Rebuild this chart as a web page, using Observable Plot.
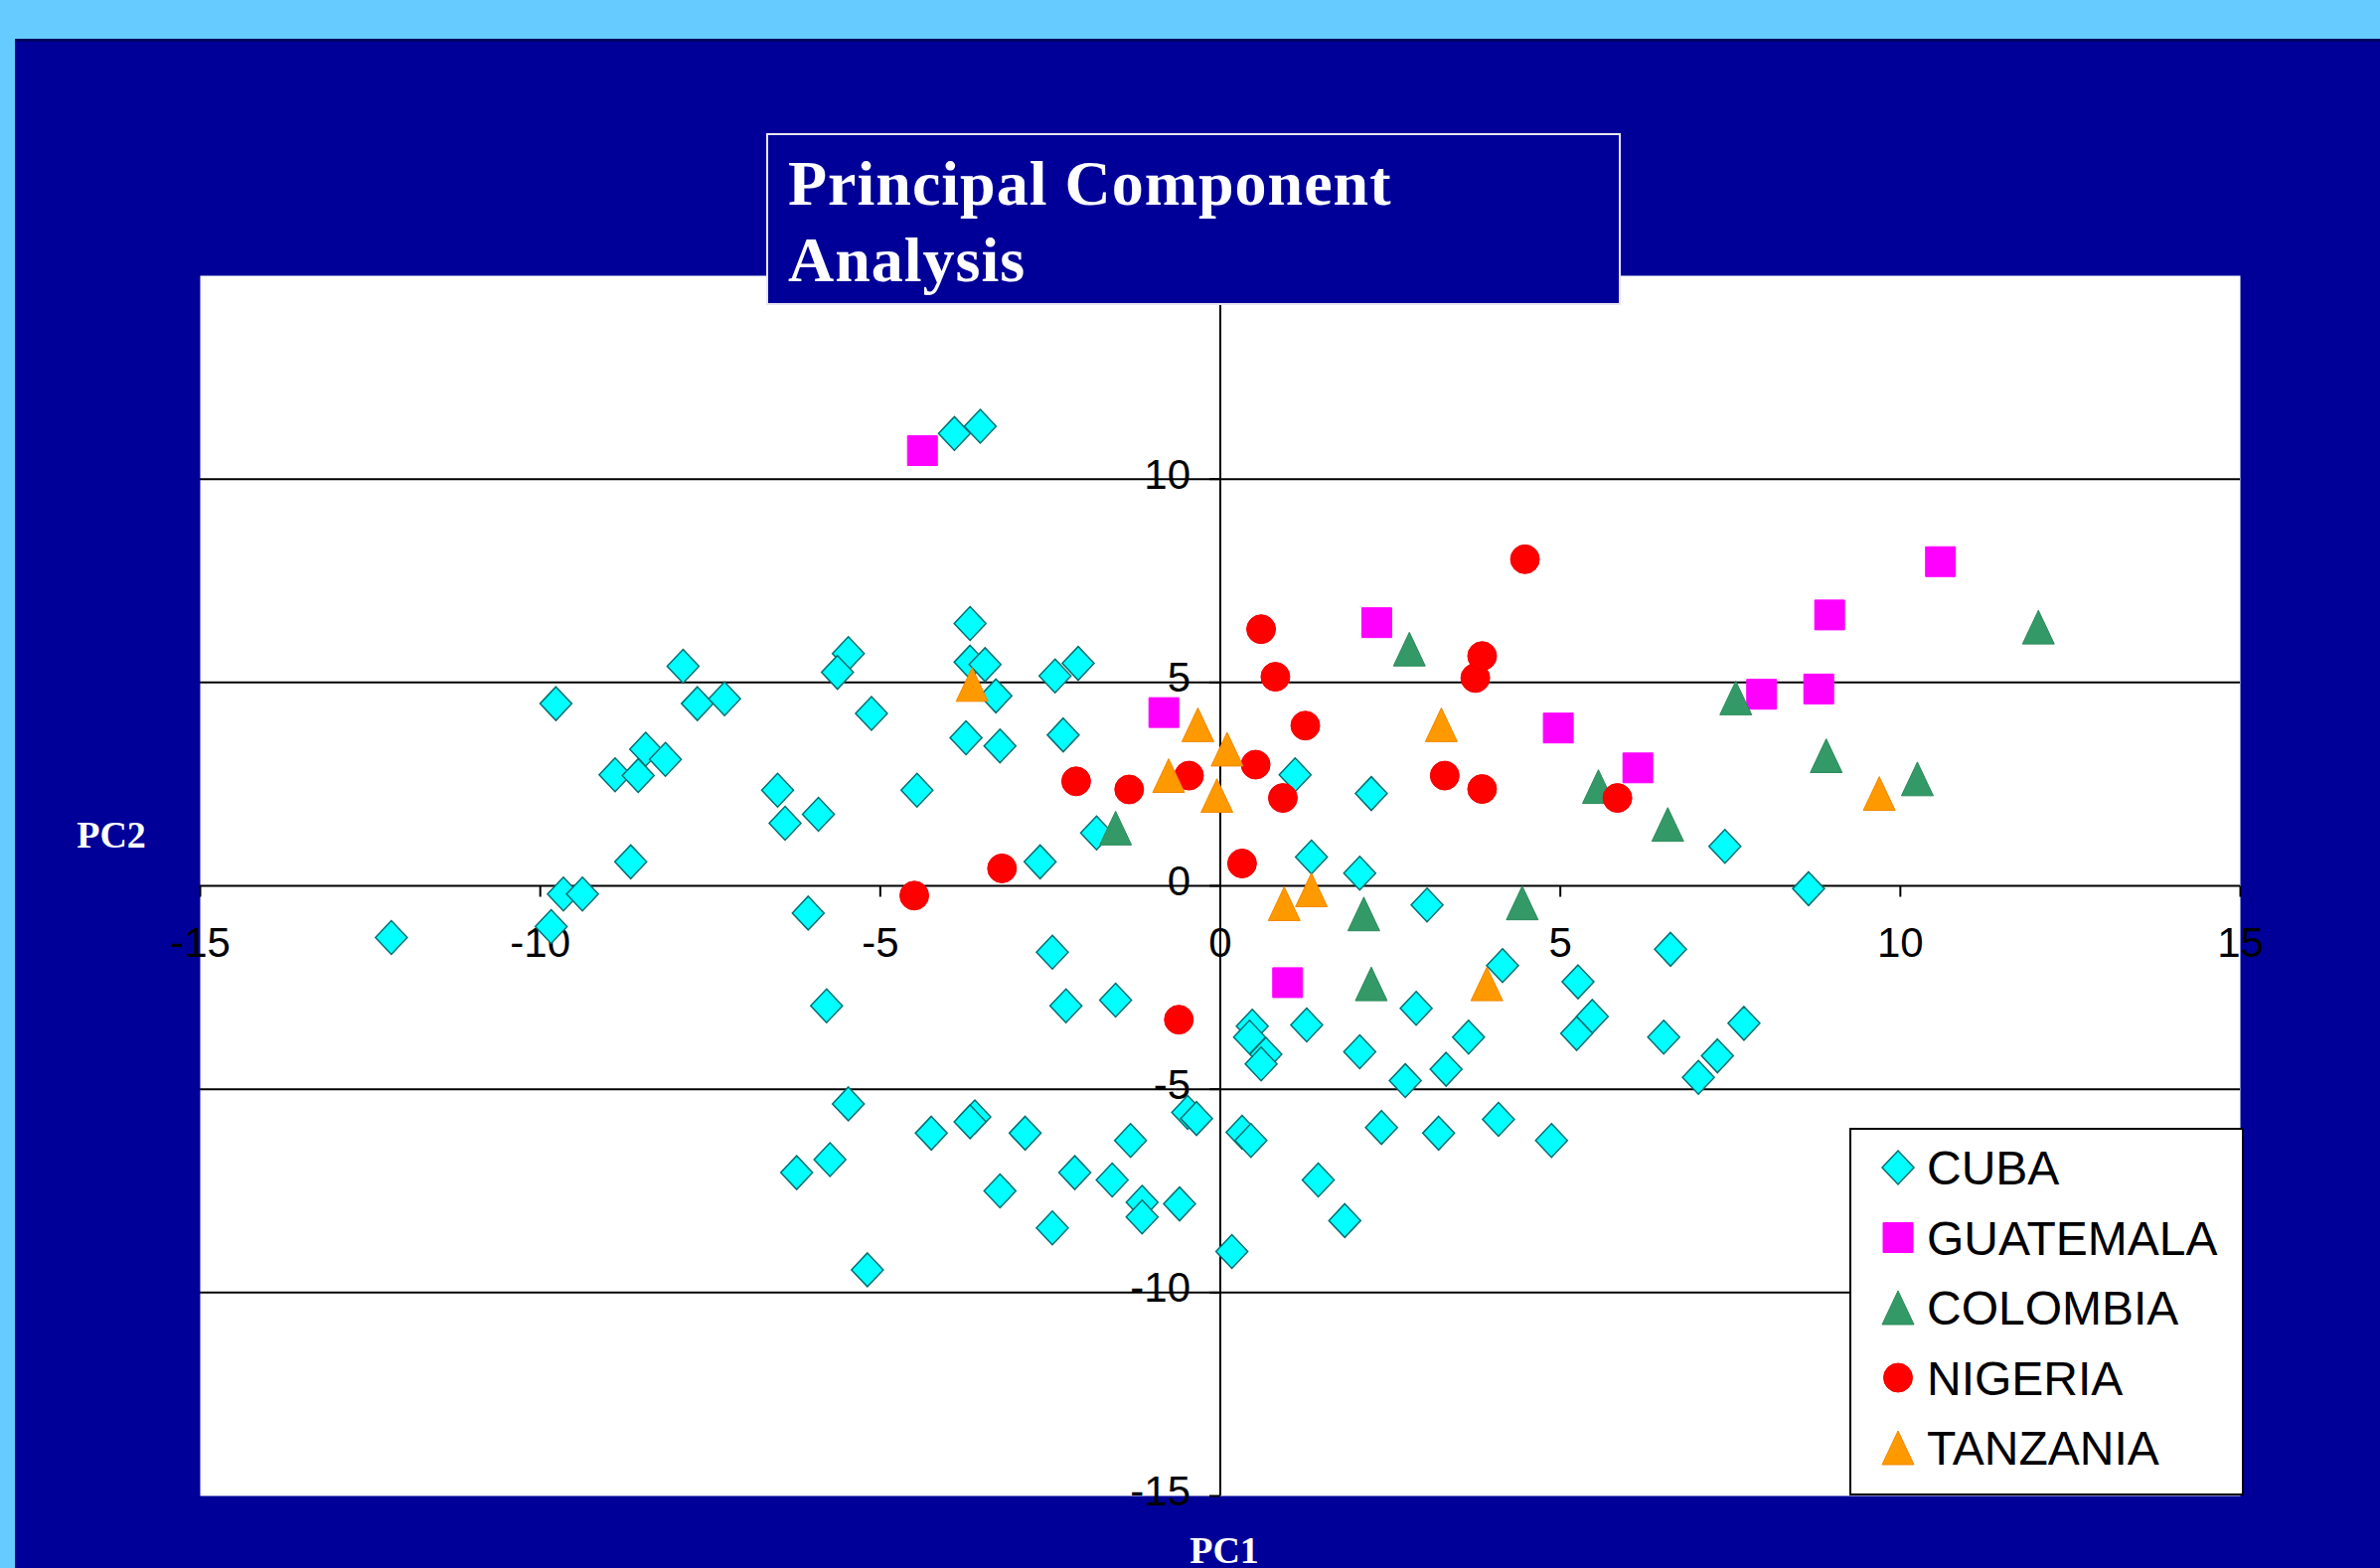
<!DOCTYPE html>
<html><head><meta charset="utf-8">
<script src="https://cdn.jsdelivr.net/npm/d3@7"></script>
<script src="https://cdn.jsdelivr.net/npm/@observablehq/plot@0.6"></script>
<style>
html,body{margin:0;padding:0;}
body{width:2395px;height:1578px;background:#66CCFF;position:relative;overflow:hidden;}
#panel{position:absolute;left:15px;top:39px;right:0;bottom:0;background:#000099;border-top:3px solid #000060;}
#chart{position:absolute;left:0;top:0;}
#title{position:absolute;left:771px;top:134px;width:860px;height:173px;box-sizing:border-box;background:#000099;border:2px solid #e6e6f0;color:#fff;font-family:"Liberation Serif","Times New Roman",serif;font-weight:bold;font-size:64px;line-height:77px;letter-spacing:1px;padding:10px 0 0 20px;}
.axlab{position:absolute;width:100px;text-align:center;color:#fff;font-family:"Liberation Serif","Times New Roman",serif;font-weight:bold;font-size:38px;line-height:38px;}
#ylab{left:62px;top:821px;}
#xlab{left:1182px;top:1541px;}
#legend{position:absolute;left:1861px;top:1135px;}
</style></head><body>
<div id="panel"></div>
<div id="chart"></div>
<div id="title">Principal Component<br>Analysis</div>
<div id="ylab" class="axlab">PC2</div>
<div id="xlab" class="axlab">PC1</div>
<div id="legend"></div>
<script>
// ---- data (PC1, PC2) ----
const cuba = [
  [-3.91,11.12],[-3.53,11.30],[-9.77,4.48],[-7.90,5.40],[-7.69,4.48],[-7.29,4.60],
  [-5.47,5.71],[-5.63,5.25],[-5.13,4.24],[-3.68,6.45],[-3.68,5.50],[-3.46,5.44],
  [-3.30,4.67],[-3.74,3.64],[-3.24,3.44],[-8.45,3.36],[-8.16,3.11],[-8.90,2.73],
  [-8.56,2.71],[-6.51,2.35],[-6.40,1.54],[-5.91,1.76],[-4.46,2.35],[-8.67,0.59],
  [-9.66,-0.20],[-9.38,-0.20],[-6.06,-0.67],[-9.84,-1.00],[-12.19,-1.27],[-5.79,-2.95],
  [-5.47,-5.36],[-4.25,-6.08],[-5.74,-6.73],[-6.23,-7.05],[-5.19,-9.44],[-1.82,1.30],
  [-2.65,0.59],[1.34,0.71],[2.05,0.31],[3.04,-0.47],[-2.47,-1.63],[-2.27,-2.95],
  [-1.54,-2.81],[4.15,-1.96],[2.88,-3.01],[1.27,-3.42],[0.47,-3.45],[0.43,-3.72],
  [0.67,-4.14],[0.60,-4.38],[2.05,-4.08],[3.65,-3.72],[3.32,-4.51],[2.72,-4.79],
  [5.26,-2.36],[5.47,-3.21],[5.24,-3.63],[6.62,-1.56],[6.52,-3.72],[-0.48,-5.57],
  [-0.35,-5.72],[-3.61,-5.68],[-3.68,-5.80],[-2.87,-6.08],[-1.32,-6.26],[0.32,-6.06],
  [0.45,-6.26],[2.37,-5.94],[3.21,-6.08],[4.09,-5.74],[4.87,-6.26],[-2.14,-7.05],
  [-1.59,-7.23],[-3.24,-7.50],[-1.15,-7.78],[-1.15,-8.14],[-0.60,-7.82],[-2.47,-8.41],
  [1.44,-7.23],[1.83,-8.23],[0.17,-8.99],[-2.43,5.16],[-2.09,5.47],[-2.31,3.71],
  [1.10,2.73],[2.22,2.27],[7.42,0.97],[8.65,-0.07],[7.70,-3.38],[7.31,-4.18],[7.03,-4.71]
];
const guatemala = [
  [-4.38,10.70],[-0.83,4.26],[2.30,6.47],[0.99,-2.38],[4.97,3.88],
  [6.14,2.90],[7.96,4.71],[8.80,4.84],[8.96,6.66],[10.59,7.97]
];
const colombia = [
  [-1.54,1.42],[2.78,5.82],[2.11,-0.69],[2.22,-2.41],[4.44,-0.42],[5.56,2.44],
  [6.58,1.51],[7.58,4.62],[8.91,3.20],[10.25,2.63],[12.03,6.36]
];
const nigeria = [
  [-4.50,-0.24],[-3.21,0.43],[-2.12,2.57],[-1.34,2.37],[-0.46,2.71],[-0.61,-3.29],
  [0.32,0.55],[0.52,2.98],[0.60,6.31],[0.81,5.14],[0.92,2.16],[1.25,3.94],
  [3.30,2.71],[3.85,2.38],[3.75,5.11],[3.85,5.65],[4.48,8.03],[5.84,2.16]
];
const tanzania = [
  [-3.65,4.95],[-0.76,2.71],[-0.33,3.96],[0.10,3.36],[-0.05,2.22],[0.94,-0.44],
  [1.34,-0.10],[3.25,3.96],[3.92,-2.41],[9.69,2.27]
];
const seriesNames = ["CUBA","GUATEMALA","COLOMBIA","NIGERIA","TANZANIA"];
const xTicks = [-15,-10,-5,0,5,10,15];
const yTicks = [-15,-10,-5,0,5,10,15];
const gridY = [-10,-5,5,10];

// ---- symbols ----
const rOf = s => Math.sqrt(s / Math.PI);
const diamondSym = {draw(c, s){const r = rOf(s); c.moveTo(0,-r*1.06); c.lineTo(r,0); c.lineTo(0,r*1.06); c.lineTo(-r,0); c.closePath();}};
const squareSym = {draw(c, s){const r = rOf(s); c.rect(-r,-r,2*r,2*r);}};
const triSym = {draw(c, s){const r = rOf(s); c.moveTo(0,-r*1.06); c.lineTo(r,r*1.06); c.lineTo(-r,r*1.06); c.closePath();}};
const circleSym = {draw(c, s){const r = rOf(s); c.moveTo(r,0); c.arc(0,0,r,0,2*Math.PI);}};
const tickDown = {draw(c, s){const r = rOf(s); c.moveTo(0,0); c.lineTo(0,r);}};
const tickLeft = {draw(c, s){const r = rOf(s); c.moveTo(0,0); c.lineTo(-r,0);}};

const styles = [
  {data: cuba, symbol: diamondSym, r: 16, fill: "#00FFFF", stroke: "#006f70", strokeWidth: 1.5},
  {data: guatemala, symbol: squareSym, r: 15, fill: "#FF00FF", stroke: "#FF00FF", strokeWidth: 1},
  {data: colombia, symbol: triSym, r: 16, fill: "#339966", stroke: "#2b8a5a", strokeWidth: 1},
  {data: nigeria, symbol: circleSym, r: 14.5, fill: "#FF0000", stroke: "#ee0000", strokeWidth: 1},
  {data: tanzania, symbol: triSym, r: 16, fill: "#FF9900", stroke: "#f08800", strokeWidth: 1}
];

const font = "'Liberation Sans', Arial, sans-serif";
const plot = Plot.plot({
  width: 2395, height: 1578,
  marginLeft: 201, marginRight: 141, marginTop: 277, marginBottom: 73,
  x: {domain: [-15, 15], axis: null},
  y: {domain: [-15, 15], axis: null},
  style: {background: "transparent", overflow: "visible"},
  marks: [
    Plot.frame({fill: "white", stroke: "none"}),
    Plot.ruleY(gridY, {stroke: "black", strokeWidth: 2}),
    Plot.ruleY([0], {stroke: "black", strokeWidth: 2}),
    Plot.ruleX([0], {stroke: "black", strokeWidth: 2}),
    Plot.dot(xTicks, {x: d => d, y: () => 0, symbol: tickDown, r: 11, stroke: "black", strokeWidth: 2}),
    Plot.dot(yTicks, {x: () => 0, y: d => d, symbol: tickLeft, r: 11, stroke: "black", strokeWidth: 2}),
    Plot.text(xTicks, {x: d => d, y: () => 0, text: d => String(d), dy: 58, fontSize: 42, fontFamily: font, fill: "black"}),
    Plot.text(yTicks, {x: () => 0, y: d => d, text: d => String(d), textAnchor: "end", dx: -30, dy: -4, fontSize: 42, fontFamily: font, fill: "black"}),
    ...styles.map(s => Plot.dot(s.data, {x: d => d[0], y: d => d[1], symbol: s.symbol, r: s.r, fill: s.fill, stroke: s.stroke, strokeWidth: s.strokeWidth}))
  ]
});
document.getElementById("chart").appendChild(plot);

// ---- legend ----
const leg = d3.select("#legend").append("svg").attr("width", 397).attr("height", 370);
leg.append("rect").attr("x", 1).attr("y", 1).attr("width", 395).attr("height", 368)
  .attr("fill", "white").attr("stroke", "black").attr("stroke-width", 2);
styles.forEach((s, i) => {
  const g = leg.append("g").attr("transform", `translate(49,${40 + i * 70.5})`);
  g.append("path").attr("d", d3.symbol(s.symbol, Math.PI * s.r * s.r)())
    .attr("fill", s.fill).attr("stroke", s.stroke).attr("stroke-width", s.strokeWidth);
  g.append("text").attr("x", 29).attr("y", 17).text(seriesNames[i])
    .attr("font-family", font).attr("font-size", 48).attr("fill", "black");
});
</script>
</body></html>
